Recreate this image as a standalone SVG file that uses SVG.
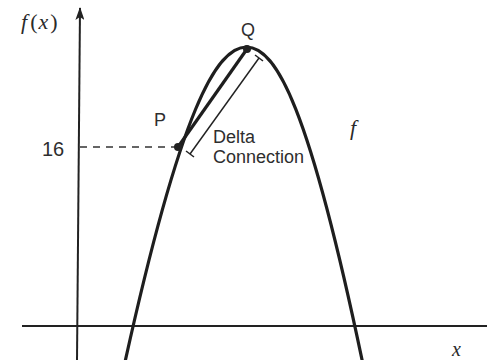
<svg xmlns="http://www.w3.org/2000/svg" width="487" height="360" viewBox="0 0 487 360">
<defs>
<style>
.ax{stroke:#222;stroke-width:2;fill:none}
.curve{stroke:#1e1e1e;stroke-width:3.2;fill:none}
.sans{font-family:"Liberation Sans",Arial,sans-serif;fill:#2e2e2e}
.serif{font-family:"Liberation Serif","Times New Roman",serif;fill:#2a2a2a}
.it{font-style:italic}
.dot{fill:#222}
</style>
<marker id="arr" viewBox="0 0 13 9" refX="12" refY="4.5" markerWidth="13" markerHeight="9" markerUnits="userSpaceOnUse" orient="auto">
<path d="M0,0 L13,4.5 L0,9 L3,4.5 Z" fill="#222"/>
</marker>
</defs>
<rect width="487" height="360" fill="#ffffff"/>
<g id="axes">
<line class="ax" x1="77" y1="360" x2="80" y2="8" marker-end="url(#arr)"/>
<line class="ax" x1="22" y1="326" x2="487" y2="326" stroke-width="1.8"/>
<text class="serif" x="21" y="29" font-size="22"><tspan class="it">f</tspan><tspan dx="3">(</tspan><tspan class="it" dx="1">x</tspan><tspan dx="2">)</tspan></text>
<text class="serif it" x="452" y="356" font-size="20">x</text>
<text class="sans" x="42" y="156" font-size="20">16</text>
</g>
<g id="curve-f">
<path class="curve" d="M125,362 C181.2,108 216.5,47 246.5,47 C276.5,47 309.2,107.5 362.5,362"/>
<text class="serif it" x="350" y="135" font-size="22">f</text>
</g>
<g id="connectors">
<line x1="80" y1="147" x2="178" y2="147" stroke="#333" stroke-width="1.5" stroke-dasharray="7,6"/>
<line x1="178" y1="147" x2="247" y2="49" stroke="#1e1e1e" stroke-width="3.2"/>
</g>
<g id="node-P">
<circle class="dot" cx="178" cy="147" r="4"/>
<text class="sans" x="154" y="126" font-size="18">P</text>
</g>
<g id="node-Q">
<circle class="dot" cx="247" cy="49" r="4"/>
<text class="sans" x="248" y="36" font-size="18" text-anchor="middle">Q</text>
</g>
<g id="delta-connection">
<line x1="259" y1="58" x2="190" y2="154" stroke="#222" stroke-width="1.5"/>
<line x1="255" y1="55" x2="263" y2="61" stroke="#222" stroke-width="1.5"/>
<line x1="186" y1="151" x2="194" y2="157" stroke="#222" stroke-width="1.5"/>
<text class="sans" x="213" y="143" font-size="18">Delta</text>
<text class="sans" x="213" y="163" font-size="18">Connection</text>
</g>
</svg>
